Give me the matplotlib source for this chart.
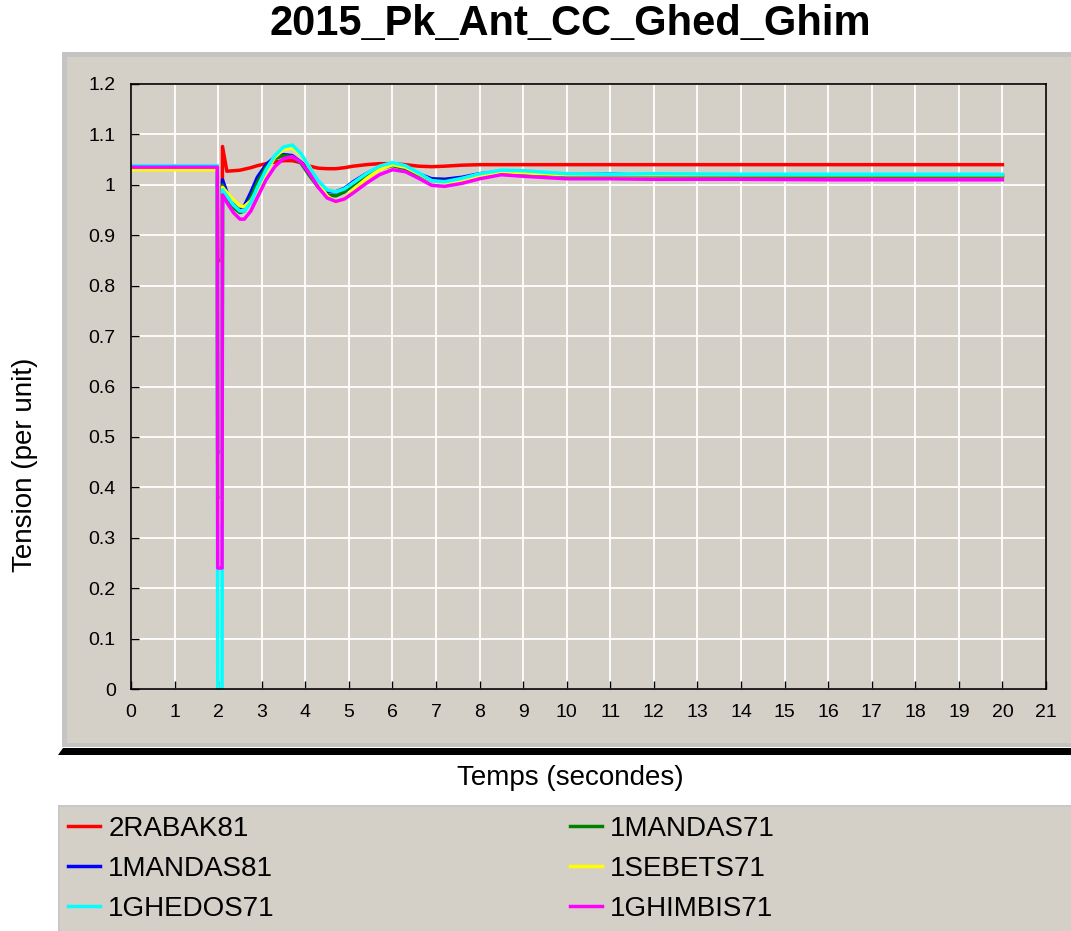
import matplotlib.pyplot as plt
from matplotlib.patches import Rectangle, Polygon

plt.rcParams['font.family'] = ['Liberation Sans', 'DejaVu Sans']

# temps (s) - the fault is between 1.98 s and 2.1 s
temps = [0, 1.98, 1.99, 2.09, 2.1, 2.2, 2.35, 2.5, 2.6, 2.75, 2.9, 3.1, 3.3, 3.5, 3.7, 3.9,
         4.1, 4.3, 4.5, 4.7, 4.9, 5.1, 5.4, 5.7, 6.0, 6.3, 6.6, 6.9, 7.2, 7.6, 8.0, 8.5,
         9.0, 10, 11, 12, 14, 16, 18, 20]

rabak81 = [1.037, 1.037, 0.85, 0.85, 1.076, 1.027, 1.028, 1.029, 1.031, 1.034, 1.038, 1.042,
           1.045, 1.048, 1.048, 1.044, 1.037, 1.033, 1.032, 1.032, 1.034, 1.037, 1.04, 1.042,
           1.042, 1.04, 1.037, 1.036, 1.037, 1.039, 1.04, 1.04, 1.04, 1.04, 1.04, 1.04,
           1.04, 1.04, 1.04, 1.04]
mandas81 = [1.037, 1.037, 0.47, 0.47, 1.01, 0.985, 0.965, 0.955, 0.958, 0.985, 1.015, 1.04,
            1.055, 1.06, 1.058, 1.045, 1.022, 1.0, 0.987, 0.986, 0.993, 1.006, 1.022, 1.035,
            1.04, 1.034, 1.022, 1.012, 1.011, 1.015, 1.022, 1.026, 1.025, 1.02, 1.021, 1.019,
            1.018, 1.018, 1.018, 1.018]
ghedos71 = [1.038, 1.038, 0.0, 0.0, 0.99, 0.978, 0.96, 0.948, 0.948, 0.965, 0.995, 1.03,
            1.058, 1.075, 1.079, 1.062, 1.034, 1.008, 0.99, 0.986, 0.992, 1.004, 1.022, 1.037,
            1.044, 1.038, 1.024, 1.008, 1.006, 1.013, 1.022, 1.029, 1.028, 1.022, 1.021, 1.022,
            1.021, 1.021, 1.021, 1.021]
mandas71 = [1.035, 1.035, 0.38, 0.38, 1.0, 0.975, 0.955, 0.945, 0.948, 0.975, 1.005, 1.035,
            1.052, 1.058, 1.056, 1.043, 1.018, 0.995, 0.98, 0.978, 0.986, 1.0, 1.018, 1.032,
            1.038, 1.032, 1.02, 1.008, 1.007, 1.012, 1.02, 1.025, 1.023, 1.019, 1.019, 1.018,
            1.018, 1.018, 1.018, 1.018]
sebets71 = [1.03, 1.03, 0.335, 0.335, 0.995, 0.985, 0.97, 0.958, 0.957, 0.968, 0.99, 1.025,
            1.055, 1.07, 1.073, 1.06, 1.035, 1.005, 0.978, 0.966, 0.972, 0.99, 1.012, 1.03,
            1.04, 1.035, 1.022, 1.008, 1.004, 1.01, 1.018, 1.026, 1.024, 1.02, 1.02, 1.02,
            1.02, 1.02, 1.02, 1.02]
ghimbis71 = [1.035, 1.035, 0.24, 0.24, 0.98, 0.965, 0.945, 0.932, 0.932, 0.948, 0.975, 1.01,
             1.036, 1.052, 1.056, 1.045, 1.022, 0.995, 0.974, 0.967, 0.972, 0.984, 1.003, 1.02,
             1.03, 1.026, 1.013, 0.999, 0.997, 1.003, 1.012, 1.02, 1.017, 1.012, 1.012, 1.011,
             1.011, 1.01, 1.01, 1.01]

noms = ['2RABAK81', '1MANDAS81', '1GHEDOS71', '1MANDAS71', '1SEBETS71', '1GHIMBIS71']
series = [rabak81, mandas81, ghedos71, mandas71, sebets71, ghimbis71]
couleurs = ['#ff0000', '#0000ff', '#00ffff', '#008000', '#ffff00', '#ff00ff']
ordre = [0, 1, 3, 4, 2, 5]  # drawing order

W, H = 1071, 931
gris = '#d4d0c8'

fig = plt.figure(figsize=(W / 100, H / 100), dpi=100)

# grey panel behind the plot
fig.add_artist(Rectangle((62 / W, 1 - 747 / H), 1 - 62 / W, (747 - 52) / H,
                         transform=fig.transFigure, facecolor='#c4c4c4', edgecolor='none', zorder=-5))
fig.add_artist(Rectangle((67 / W, 1 - 743 / H), 1 - 67 / W, (743 - 57) / H,
                         transform=fig.transFigure, facecolor=gris, edgecolor='none', zorder=-4))
fig.add_artist(Polygon([(58 / W, 1 - 755 / H), (63 / W, 1 - 748 / H), (1, 1 - 748 / H), (1, 1 - 755 / H)],
                       closed=True, transform=fig.transFigure, facecolor='black', edgecolor='none', zorder=-4))
# legend panel
fig.add_artist(Rectangle((58 / W, 0), 1 - 58 / W, (931 - 805) / H,
                         transform=fig.transFigure, facecolor='#c8c8c8', edgecolor='none', zorder=-5))
fig.add_artist(Rectangle((60 / W, 0), 1 - 60 / W, (931 - 807) / H,
                         transform=fig.transFigure, facecolor=gris, edgecolor='none', zorder=-4))

ax = fig.add_axes([131 / W, 1 - 689 / H, (1046 - 131) / W, (689 - 84) / H])
ax.set_facecolor(gris)

lignes = {}
for i in ordre:
    l, = ax.plot(temps, series[i], color=couleurs[i], lw=2.5, label=noms[i])
    lignes[i] = l

ax.set_xlim(0, 21)
ax.set_ylim(0, 1.2)
ax.set_xticks(range(0, 22))
ax.set_yticks([i / 10 for i in range(13)])
ax.set_yticklabels(['0', '0.1', '0.2', '0.3', '0.4', '0.5', '0.6', '0.7', '0.8', '0.9', '1', '1.1', '1.2'])
ax.grid(True, color='white', lw=1.3)
ax.set_axisbelow(True)
ax.tick_params(direction='in', length=6, width=1, labelsize=14, colors='black')
ax.tick_params(axis='x', pad=11)
ax.tick_params(axis='y', pad=11)
for s in ax.spines.values():
    s.set_color('black')
    s.set_linewidth(1.2)

fig.text(570 / W, 1 - 24 / H, '2015_Pk_Ant_CC_Ghed_Ghim', ha='center', va='center',
         fontsize=30, fontweight='bold')
fig.text(570 / W, 1 - 778 / H, 'Temps (secondes)', ha='center', va='center', fontsize=20)
fig.text(25 / W, 1 - 465 / H, 'Tension (per unit)', ha='center', va='center',
         rotation=90, fontsize=20)

for idx, x0 in [([0, 1, 2], 68), ([3, 4, 5], 570)]:
    leg = fig.legend([lignes[i] for i in idx], [noms[i] for i in idx], loc='upper left',
                     bbox_to_anchor=(x0 / W, 1 - 816 / H), frameon=False, fontsize=20,
                     borderpad=0, borderaxespad=0, handlelength=1.15, handletextpad=0.3,
                     labelspacing=0.5)

fig.savefig('out.png', dpi=100)
